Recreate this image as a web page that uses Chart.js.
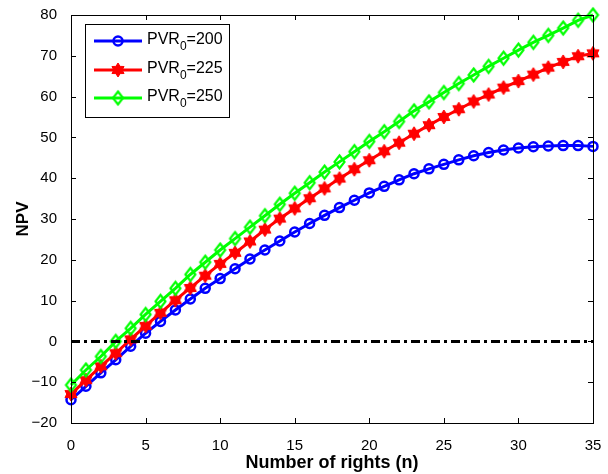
<!DOCTYPE html>
<html>
<head>
<meta charset="utf-8">
<script src="https://cdn.jsdelivr.net/npm/chart.js@4.4.1/dist/chart.umd.min.js"></script>
<style>
  html, body { margin: 0; padding: 0; background: #fff; }
  #npvChart { display: block; }
</style>
</head>
<body>
<canvas id="npvChart" width="608" height="474"></canvas>
<script>
// number of rights n
const rights = [0, 1, 2, 3, 4, 5, 6, 7, 8, 9, 10, 11, 12, 13, 14, 15, 16, 17,
                18, 19, 20, 21, 22, 23, 24, 25, 26, 27, 28, 29, 30, 31, 32, 33, 34, 35];

// NPV values
const npv200 = [-14.3, -11.0, -7.7, -4.5, -1.2, 2.0, 4.9, 7.7, 10.4, 13.0, 15.4, 17.8,
                20.2, 22.4, 24.6, 26.8, 28.9, 30.9, 32.8, 34.6, 36.4, 38.0, 39.6, 41.1,
                42.3, 43.4, 44.5, 45.5, 46.3, 46.9, 47.4, 47.7, 47.9, 48.0, 48.0, 47.8];
const npv225 = [-12.9, -9.5, -6.1, -2.9, 0.5, 3.8, 7.0, 10.1, 13.1, 16.1, 19.0, 21.7,
                24.5, 27.4, 30.1, 32.6, 35.1, 37.5, 39.9, 42.2, 44.4, 46.6, 48.7, 50.9,
                53.0, 55.0, 56.9, 58.8, 60.5, 62.2, 63.8, 65.4, 67.1, 68.5, 69.9, 70.6];
const npv250 = [-10.7, -7.0, -3.7, 0.0, 3.2, 6.6, 9.8, 13.0, 16.4, 19.4, 22.4, 25.2,
                28.0, 30.8, 33.6, 36.3, 38.9, 41.5, 44.0, 46.5, 49.0, 51.4, 53.9, 56.5,
                58.7, 61.0, 63.2, 65.3, 67.4, 69.4, 71.4, 73.3, 75.0, 76.8, 78.7, 80.0];

// break-even reference line
const zeroLineX = [0, 35];
const zeroLineY = [0, 0];

const xTicks = [0, 5, 10, 15, 20, 25, 30, 35];
const yTicks = [-20, -10, 0, 10, 20, 30, 40, 50, 60, 70, 80];

const seriesNames = ['200', '225', '250'];
const seriesColors = ['#0000ff', '#ff0000', '#00ff00'];

const FONT = '"Liberation Sans", Arial, Helvetica, sans-serif';

function toPoints(xs, ys) {
    return xs.map((x, i) => ({ x: x, y: ys[i] }));
}

// filled six-point star, like the matlab hexagram marker
function makeHexagram(color, r) {
    const size = Math.ceil(r * 2 + 2);
    const cv = document.createElement('canvas');
    cv.width = size;
    cv.height = size;
    const g = cv.getContext('2d');
    const c = size / 2;
    g.beginPath();
    for (let i = 0; i < 12; i++) {
        const rad = (i % 2 === 0) ? r : r * 0.6;
        const a = -Math.PI / 2 + i * Math.PI / 6;
        const px = c + rad * Math.cos(a);
        const py = c + rad * Math.sin(a);
        if (i === 0) g.moveTo(px, py); else g.lineTo(px, py);
    }
    g.closePath();
    g.fillStyle = color;
    g.fill();
    g.strokeStyle = color;
    g.lineWidth = 1;
    g.stroke();
    return cv;
}

// hollow diamond, a bit taller than wide
function makeDiamond(color, hw, hh, lw) {
    const w = Math.ceil(hw * 2 + lw + 2), h = Math.ceil(hh * 2 + lw + 2);
    const cv = document.createElement('canvas');
    cv.width = w;
    cv.height = h;
    const g = cv.getContext('2d');
    const cx = w / 2, cy = h / 2;
    g.beginPath();
    g.moveTo(cx, cy - hh); g.lineTo(cx + hw, cy);
    g.lineTo(cx, cy + hh); g.lineTo(cx - hw, cy);
    g.closePath();
    g.strokeStyle = color;
    g.lineWidth = lw;
    g.stroke();
    return cv;
}

const hexStar = makeHexagram('#ff0000', 7);
const diamond = makeDiamond('#00ff00', 5, 6.5, 2.2);

// inward ticks on all four sides plus the black box
const matlabFrame = {
    id: 'matlabFrame',
    afterDatasetsDraw(chart) {
        const ctx = chart.ctx;
        const a = chart.chartArea;
        const xs = chart.scales.x, ys = chart.scales.y;
        ctx.save();
        ctx.strokeStyle = '#000';
        ctx.lineWidth = 1;
        ctx.beginPath();
        xTicks.forEach(v => {
            const px = Math.round(xs.getPixelForValue(v)) + 0.5;
            ctx.moveTo(px, a.bottom); ctx.lineTo(px, a.bottom - 5);
            ctx.moveTo(px, a.top); ctx.lineTo(px, a.top + 5);
        });
        yTicks.forEach(v => {
            const py = Math.round(ys.getPixelForValue(v)) + 0.5;
            ctx.moveTo(a.left, py); ctx.lineTo(a.left + 5, py);
            ctx.moveTo(a.right, py); ctx.lineTo(a.right - 5, py);
        });
        ctx.stroke();
        ctx.strokeRect(Math.round(a.left) + 0.5, Math.round(a.top) + 0.5,
                       Math.round(a.right - a.left), Math.round(a.bottom - a.top));
        ctx.restore();
    }
};

// legend with subscripted "0"
const subLegend = {
    id: 'subLegend',
    afterDraw(chart) {
        const ctx = chart.ctx;
        const bx = 85, by = 24, bw = 144, bh = 93;
        ctx.save();
        ctx.fillStyle = '#fff';
        ctx.fillRect(bx, by, bw, bh);
        ctx.strokeStyle = '#000';
        ctx.lineWidth = 1;
        ctx.strokeRect(bx + 0.5, by + 0.5, bw, bh);
        const rows = [41, 70, 98];
        rows.forEach((ry, i) => {
            const col = seriesColors[i];
            ctx.strokeStyle = col;
            ctx.lineWidth = 3;
            ctx.beginPath();
            ctx.moveTo(94, ry); ctx.lineTo(142, ry);
            ctx.stroke();
            const mx = 118;
            if (i === 0) {
                ctx.lineWidth = 2.5;
                ctx.beginPath();
                ctx.arc(mx, ry, 4.5, 0, Math.PI * 2);
                ctx.stroke();
            } else if (i === 1) {
                ctx.drawImage(hexStar, mx - hexStar.width / 2, ry - hexStar.height / 2);
            } else {
                ctx.drawImage(diamond, mx - diamond.width / 2, ry - diamond.height / 2);
            }
            ctx.fillStyle = '#000';
            ctx.textBaseline = 'middle';
            ctx.font = '16px ' + FONT;
            let tx = 147;
            ctx.fillText('PVR', tx, ry - 1);
            tx += ctx.measureText('PVR').width;
            ctx.font = '12px ' + FONT;
            ctx.fillText('0', tx, ry + 6);
            tx += ctx.measureText('0').width;
            ctx.font = '16px ' + FONT;
            ctx.fillText('=' + seriesNames[i], tx, ry - 1);
        });
        ctx.restore();
    }
};

const ctx = document.getElementById('npvChart').getContext('2d');

new Chart(ctx, {
    type: 'line',
    data: {
        datasets: [
            {
                label: 'zero',
                data: toPoints(zeroLineX, zeroLineY),
                borderColor: '#000',
                borderWidth: 3,
                borderDash: [9, 4, 3, 4],
                pointRadius: 0,
                order: 0
            },
            {
                label: 'PVR0=250',
                data: toPoints(rights, npv250),
                borderColor: seriesColors[2],
                backgroundColor: 'rgba(0,0,0,0)',
                borderWidth: 3,
                pointStyle: diamond,
                pointRadius: 6,
                order: 1
            },
            {
                label: 'PVR0=225',
                data: toPoints(rights, npv225),
                borderColor: seriesColors[1],
                backgroundColor: seriesColors[1],
                borderWidth: 3,
                pointStyle: hexStar,
                pointRadius: 7,
                order: 2
            },
            {
                label: 'PVR0=200',
                data: toPoints(rights, npv200),
                borderColor: seriesColors[0],
                backgroundColor: 'rgba(0,0,0,0)',
                borderWidth: 3,
                pointStyle: 'circle',
                pointRadius: 4.5,
                pointBorderWidth: 2.5,
                pointBorderColor: seriesColors[0],
                pointBackgroundColor: 'rgba(0,0,0,0)',
                order: 3
            }
        ]
    },
    options: {
        responsive: false,
        animation: false,
        devicePixelRatio: 1,
        clip: false,
        layout: { padding: { top: 13, right: 15, left: 0, bottom: 0 } },
        plugins: {
            legend: { display: false },
            tooltip: { enabled: false }
        },
        scales: {
            x: {
                type: 'linear',
                min: 0,
                max: 35,
                afterFit: s => { s.height = 51; },
                afterBuildTicks: s => { s.ticks = xTicks.map(v => ({ value: v })); },
                grid: { display: false },
                border: { display: false },
                ticks: {
                    color: '#000',
                    padding: 6,
                    maxRotation: 0,
                    font: { family: FONT, size: 15 }
                },
                title: {
                    display: true,
                    text: 'Number of rights (n)',
                    color: '#000',
                    padding: { top: 0, bottom: 0 },
                    font: { family: FONT, size: 18, weight: 'bold' }
                }
            },
            y: {
                type: 'linear',
                min: -20,
                max: 80,
                afterFit: s => { s.width = 71; },
                afterBuildTicks: s => { s.ticks = yTicks.map(v => ({ value: v })); },
                grid: { display: false },
                border: { display: false },
                ticks: {
                    color: '#000',
                    padding: 6,
                    font: { family: FONT, size: 15 },
                    callback: v => (v < 0 ? '\u2212' + Math.abs(v) : String(v))
                },
                title: {
                    display: true,
                    text: 'NPV',
                    color: '#000',
                    padding: { top: 13, bottom: 0 },
                    font: { family: FONT, size: 17, weight: 'bold' }
                }
            }
        }
    },
    plugins: [matlabFrame, subLegend]
});
</script>
</body>
</html>
